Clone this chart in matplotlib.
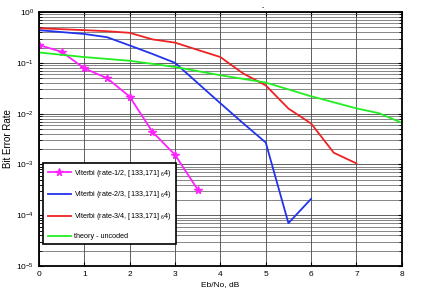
import matplotlib
matplotlib.use("Agg")
import matplotlib.pyplot as plt
import numpy as np

plt.rcParams['font.family'] = ['Liberation Sans Narrow', 'Liberation Sans', 'DejaVu Sans']
plt.rcParams['mathtext.fontset'] = 'custom'
plt.rcParams['mathtext.rm'] = 'Liberation Sans'

# data
ebno_half = [0, 0.5, 1, 1.5, 2, 2.5, 3, 3.5]
ber_half = [0.224, 0.165, 0.078, 0.05, 0.0216, 0.0044, 0.00155, 3.2e-4]

ebno_two3 = [0, 1, 1.5, 2, 2.5, 3, 3.5, 4, 4.5, 5, 5.5, 6]
ber_two3 = [0.44, 0.37, 0.32, 0.22, 0.15, 0.1, 0.04, 0.016, 0.0065, 0.0027, 7e-5, 2.1e-4]

ebno_three4 = [0, 0.5, 1, 1.5, 2, 2.5, 3, 3.5, 4, 4.5, 5, 5.5, 6, 6.5, 7]
ber_three4 = [0.48, 0.46, 0.44, 0.42, 0.39, 0.29, 0.25, 0.18, 0.13, 0.062,
              0.036, 0.0126, 0.0064, 0.0017, 0.00105]

ebno_unc = [0, 1, 2, 3, 4, 5, 6, 7, 7.5, 8]
ber_unc = [0.16, 0.13, 0.11, 0.083, 0.057, 0.041, 0.022, 0.0127, 0.0102, 0.0066]

labels = ["Viterbi (rate-1/2, [133,171] $_{6}$4)",
          "Viterbi (rate-2/3, [133,171] $_{6}$4)",
          "Viterbi (rate-3/4, [133,171] $_{6}$4)",
          "theory - uncoded"]

fig = plt.figure(figsize=(4.43, 2.94), dpi=100)
ax = fig.add_axes([0.088, 0.095, 0.819, 0.864])

ax.semilogy(ebno_half, ber_half, color="#ff22ff", lw=1.3, marker="*", ms=5.5, label=labels[0])
ax.semilogy(ebno_two3, ber_two3, color="#2233ee", lw=1.3, label=labels[1])
ax.semilogy(ebno_three4, ber_three4, color="#ee2222", lw=1.3, label=labels[2])
ax.semilogy(ebno_unc, ber_unc, color="#22ee22", lw=1.3, label=labels[3])

ax.set_xlim(0, 8)
ax.set_ylim(1e-5, 1)
ax.set_xticks(range(9))
ax.grid(True, which="major", color="#444444", lw=0.6)
ax.grid(True, which="minor", color="#555555", lw=0.5)
ax.tick_params(which="both", direction="in", labelsize=6, top=True, right=True)
ax.tick_params(which="major", length=3)
ax.tick_params(which="minor", length=2)
for s in ax.spines.values():
    s.set_linewidth(1.3)

ax.set_xlabel("Eb/No, dB", fontsize=6, labelpad=2)
ax.set_ylabel("Bit Error Rate", fontsize=7, labelpad=2)
fig.text(0.593, 0.985, "-", fontsize=5, ha="center", va="top")

leg = ax.legend(loc="lower left", bbox_to_anchor=(0.012, 0.085), fontsize=5.2,
                fancybox=False, framealpha=1, edgecolor="black",
                handlelength=3.2, handletextpad=0.5, labelspacing=1.5,
                borderpad=0.6, borderaxespad=0)
leg.get_frame().set_linewidth(1.2)

fig.savefig("out.png", dpi=100)
